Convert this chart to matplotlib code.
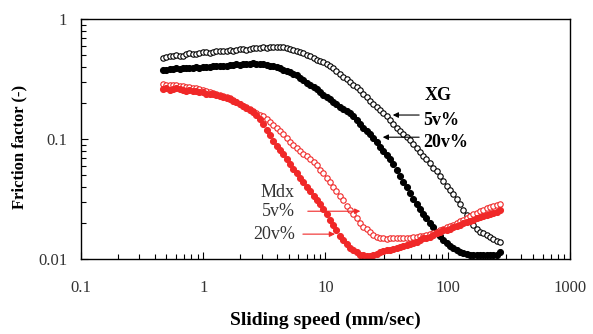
import matplotlib
matplotlib.use("Agg")
import matplotlib.pyplot as plt
from matplotlib.ticker import LogLocator, NullFormatter, FixedLocator, FixedFormatter

# sliding speeds (mm/sec), shared by all four runs
speed = [0.47, 0.50, 0.53, 0.565, 0.6, 0.64, 0.68, 0.72, 0.77, 0.82, 0.87, 0.93,
         1.0, 1.06, 1.13, 1.2, 1.28, 1.36, 1.45, 1.55, 1.65, 1.76, 1.87, 1.99,
         2.1, 2.25, 2.4, 2.55, 2.7, 2.9, 3.1, 3.3, 3.5, 3.75, 4.0, 4.25, 4.5, 4.8,
         5.1, 5.45, 5.8, 6.2, 6.6, 7.0, 7.5, 8.0, 8.5, 9.0, 9.6, 10.2, 10.9, 11.6,
         12.3, 13.1, 14, 14.9, 15.9, 16.9, 18, 19.2, 20.4, 21.7, 23.1, 24.6, 26.2,
         27.9, 29.7, 31.6, 33.7, 35.9, 38.2, 40.7, 43.3, 46.1, 49, 52.2, 55.6,
         59.2, 63, 67, 71.4, 76, 81, 86.2, 91.8, 97.7, 104, 111, 118, 126, 134,
         143, 152, 162, 172, 183, 195, 208, 221, 236, 251, 267]

# friction factor
xg_5 = [0.47, 0.48, 0.49, 0.495, 0.50, 0.49, 0.49, 0.51, 0.52, 0.515, 0.51, 0.525,
        0.53, 0.53, 0.52, 0.535, 0.54, 0.54, 0.54, 0.545, 0.55, 0.545, 0.55, 0.56,
        0.56, 0.555, 0.56, 0.57, 0.57, 0.575, 0.58, 0.575, 0.58, 0.585, 0.585,
        0.585, 0.58, 0.57, 0.56, 0.55, 0.54, 0.53, 0.52, 0.505, 0.49, 0.475, 0.46,
        0.45, 0.44, 0.425, 0.41, 0.39, 0.37, 0.35, 0.33, 0.315, 0.30, 0.285, 0.27,
        0.255, 0.24, 0.225, 0.21, 0.197, 0.185, 0.175, 0.165, 0.155, 0.145, 0.135,
        0.125, 0.117, 0.11, 0.104, 0.098, 0.091, 0.085, 0.079, 0.073, 0.068,
        0.063, 0.058, 0.054, 0.049, 0.045, 0.041, 0.038, 0.035, 0.032, 0.029,
        0.026, 0.0235, 0.021, 0.0195, 0.018, 0.017, 0.0165, 0.016, 0.0153,
        0.0148, 0.0143, 0.014]
xg_20 = [0.38, 0.38, 0.385, 0.385, 0.39, 0.385, 0.39, 0.395, 0.395, 0.395, 0.40,
         0.395, 0.40, 0.40, 0.40, 0.405, 0.41, 0.405, 0.41, 0.41, 0.415, 0.415,
         0.42, 0.415, 0.42, 0.42, 0.425, 0.43, 0.425, 0.425, 0.42, 0.415, 0.41,
         0.405, 0.40, 0.39, 0.38, 0.37, 0.36, 0.35, 0.34, 0.325, 0.31, 0.295,
         0.28, 0.27, 0.26, 0.245, 0.235, 0.225, 0.215, 0.205, 0.195, 0.187, 0.18,
         0.172, 0.165, 0.155, 0.145, 0.135, 0.125, 0.117, 0.11, 0.103, 0.095,
         0.087, 0.08, 0.074, 0.068, 0.062, 0.055, 0.049, 0.044, 0.04, 0.036,
         0.032, 0.029, 0.0265, 0.024, 0.022, 0.020, 0.0185, 0.017, 0.0157,
         0.0145, 0.0137, 0.013, 0.0125, 0.012, 0.0116, 0.0113, 0.0111, 0.011,
         0.0109, 0.0108, 0.0108, 0.0108, 0.0109, 0.0109, 0.011, 0.011, 0.0115]
mdx_5 = [0.29, 0.285, 0.28, 0.285, 0.28, 0.275, 0.275, 0.27, 0.27, 0.265, 0.265,
         0.26, 0.255, 0.25, 0.245, 0.243, 0.24, 0.235, 0.23, 0.225, 0.22, 0.212,
         0.205, 0.197, 0.19, 0.185, 0.18, 0.172, 0.165, 0.16, 0.155, 0.147, 0.14,
         0.132, 0.125, 0.117, 0.11, 0.102, 0.095, 0.09, 0.085, 0.08, 0.076,
         0.072, 0.069, 0.065, 0.061, 0.056, 0.052, 0.048, 0.044, 0.04, 0.037,
         0.034, 0.031, 0.028, 0.026, 0.024, 0.022, 0.02, 0.0185, 0.0178, 0.017,
         0.016, 0.0155, 0.015, 0.015, 0.0148, 0.015, 0.015, 0.015, 0.015, 0.015,
         0.0151, 0.0152, 0.0153, 0.0155, 0.0157, 0.0158, 0.016, 0.0162, 0.0166,
         0.017, 0.0175, 0.018, 0.0185, 0.019, 0.0195, 0.020, 0.0207, 0.0215,
         0.0222, 0.023, 0.0237, 0.0245, 0.0252, 0.026, 0.0268, 0.0275, 0.028,
         0.0285, 0.029]
mdx_20 = [0.26, 0.265, 0.255, 0.26, 0.265, 0.26, 0.255, 0.25, 0.255, 0.25, 0.25,
          0.245, 0.245, 0.24, 0.24, 0.237, 0.235, 0.23, 0.225, 0.22, 0.215, 0.21,
          0.205, 0.197, 0.19, 0.182, 0.175, 0.167, 0.16, 0.148, 0.135, 0.12,
          0.108, 0.097, 0.088, 0.081, 0.075, 0.068, 0.062, 0.057, 0.052, 0.048,
          0.044, 0.04, 0.037, 0.034, 0.0315, 0.029, 0.0265, 0.024, 0.0215, 0.0195,
          0.0175, 0.0158, 0.0145, 0.0135, 0.0125, 0.012, 0.0115, 0.011, 0.0108,
          0.0106, 0.0107, 0.011, 0.0112, 0.0115, 0.0118, 0.0119, 0.012, 0.0122,
          0.0125, 0.0127, 0.013, 0.0133, 0.0135, 0.0137, 0.014, 0.0145, 0.015,
          0.0152, 0.0155, 0.016, 0.0165, 0.017, 0.0175, 0.0177, 0.018, 0.0185,
          0.019, 0.0195, 0.020, 0.0205, 0.021, 0.0215, 0.022, 0.0225, 0.023,
          0.0235, 0.024, 0.0245, 0.025, 0.0257]

plt.rcParams['font.family'] = ['Liberation Serif', 'DejaVu Serif']

fig = plt.figure(figsize=(5.93, 3.34), dpi=100)
ax = fig.add_axes([0.1366, 0.2231, 0.8246, 0.72])

red = '#f02828'
ax.plot(speed, xg_5, 'o', color='black', mfc='white', ms=3.9, mew=0.8)
ax.plot(speed, xg_20, 'o', color='black', ms=4.3, mew=0.8)
ax.plot(speed, mdx_5, 'o', color=red, mfc='white', ms=3.9, mew=0.8)
ax.plot(speed, mdx_20, 'o', color=red, ms=4.3, mew=0.8)

ax.set_xscale('log')
ax.set_yscale('log')
ax.set_xlim(0.1, 1000)
ax.set_ylim(0.01, 1)

ax.xaxis.set_major_locator(FixedLocator([0.1, 1, 10, 100, 1000]))
ax.xaxis.set_major_formatter(FixedFormatter(['0.1', '1', '10', '100', '1000']))
ax.yaxis.set_major_locator(FixedLocator([0.01, 0.1, 1]))
ax.yaxis.set_major_formatter(FixedFormatter(['0.01', '0.1', '1']))
ax.xaxis.set_minor_locator(LogLocator(base=10, subs=range(2, 10)))
ax.yaxis.set_minor_locator(LogLocator(base=10, subs=range(2, 10)))
ax.xaxis.set_minor_formatter(NullFormatter())
ax.yaxis.set_minor_formatter(NullFormatter())
ax.tick_params(which='both', direction='in', top=False, right=False,
               labelsize=12, labelcolor='#333333', width=0.8)
ax.tick_params(which='major', length=5)
ax.tick_params(which='minor', length=3.5)
ax.tick_params(axis='x', pad=15)
ax.tick_params(axis='y', pad=10)
for s in ax.spines.values():
    s.set_linewidth(1.0)

ax.set_xlabel('Sliding speed (mm/sec)', fontsize=14, fontweight='bold', labelpad=11)
ax.set_ylabel('Friction factor (-)', fontsize=12, fontweight='bold', labelpad=8)
ax.yaxis.set_label_coords(-0.11, 0.47)

# annotations
ax.text(65, 0.229, 'XG', fontsize=13, fontweight='bold', va='center')
ax.text(63, 0.144, '5v%', fontsize=13, fontweight='bold', va='center')
ax.text(63, 0.0947, '20v%', fontsize=13, fontweight='bold', va='center')
arrow_k = dict(arrowstyle='-|>', color='black', lw=0.8, mutation_scale=8)
ax.annotate('', xy=(33.7, 0.159), xytext=(61.5, 0.159), arrowprops=arrow_k)
ax.annotate('', xy=(27.9, 0.104), xytext=(61.5, 0.104), arrowprops=arrow_k)

ax.text(5.6, 0.0363, 'Mdx', fontsize=13, color='#333333', ha='right', va='center')
ax.text(5.6, 0.0252, '5v%', fontsize=13, color='#333333', ha='right', va='center')
ax.text(5.6, 0.01625, '20v%', fontsize=13, color='#333333', ha='right', va='center')
arrow_r = dict(arrowstyle='-|>', color=red, lw=0.8, mutation_scale=8)
ax.annotate('', xy=(20.3, 0.0252), xytext=(6.8, 0.0252), arrowprops=arrow_r)
ax.annotate('', xy=(12.6, 0.01625), xytext=(6.2, 0.01625), arrowprops=arrow_r)

fig.savefig('out.png', dpi=100)
